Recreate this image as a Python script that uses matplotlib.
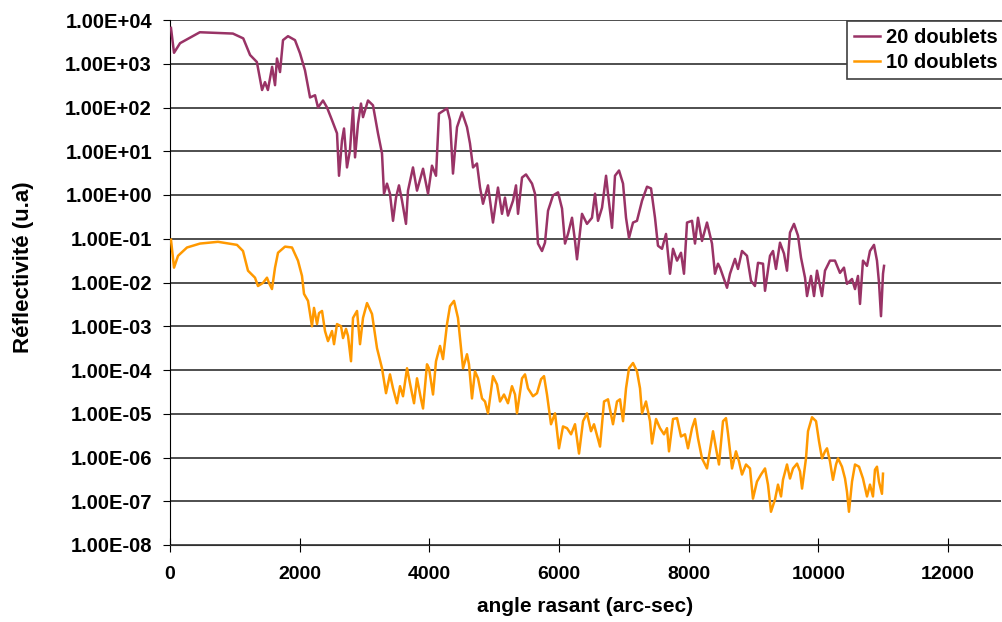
import numpy as np
import matplotlib
matplotlib.use("Agg")
import matplotlib.pyplot as plt

# grazing angle (arc-sec) and log10 of reflectivity
x_20 = [15, 62, 155, 460, 970, 1130, 1235, 1340, 1420, 1465, 1510, 1575, 1620, 1650, 1697,
        1743, 1820, 1928, 2005, 2082, 2160, 2237, 2283, 2360, 2422, 2499, 2576, 2607, 2653,
        2684, 2730, 2776, 2823, 2854, 2900, 2946, 2977, 3054, 3131, 3208, 3270, 3301, 3347,
        3393, 3440, 3486, 3532, 3579, 3640, 3671, 3748, 3810, 3903, 3980, 4041, 4103, 4149,
        4273, 4319, 4365, 4427, 4504, 4581, 4627, 4674, 4735, 4782, 4828, 4905, 4982, 5059,
        5121, 5167, 5213, 5291, 5337, 5368, 5430, 5491, 5584, 5630, 5676, 5738, 5784, 5831,
        5908, 5985, 6047, 6093, 6139, 6201, 6247, 6278, 6355, 6432, 6509, 6556, 6602, 6664,
        6726, 6756, 6818, 6864, 6926, 6988, 7034, 7080, 7142, 7203, 7281, 7358, 7420, 7481,
        7527, 7589, 7651, 7712, 7759, 7821, 7882, 7928, 7975, 8052, 8098, 8144, 8206, 8283,
        8360, 8406, 8453, 8484, 8592, 8638, 8715, 8761, 8823, 8900, 8962, 9023, 9070, 9147,
        9178, 9255, 9301, 9347, 9409, 9471, 9517, 9563, 9625, 9687, 9733, 9795, 9826, 9887,
        9934, 9980, 10057, 10103, 10180, 10257, 10334, 10396, 10442, 10520, 10566, 10612,
        10643, 10689, 10751, 10797, 10859, 10905, 10936, 10967, 10998, 11014]
log_20 = [3.82, 3.25, 3.47, 3.72, 3.69, 3.58, 3.2, 3.04, 2.4, 2.58, 2.4, 2.93, 2.51, 3.12, 2.81,
          3.54, 3.63, 3.54, 3.24, 2.85, 2.23, 2.28, 2.0, 2.16, 2.0, 1.71, 1.41, 0.44, 1.25,
          1.52, 0.63, 1.02, 2.0, 0.86, 1.63, 2.09, 1.78, 2.16, 2.05, 1.41, 0.95, 0.03, 0.26,
          0.03, -0.59, -0.06, 0.22, -0.13, -0.66, 0.1, 0.63, 0.1, 0.6, 0.03, 0.67, 0.44, 1.86,
          1.98, 1.71, 0.49, 1.55, 1.89, 1.55, 1.18, 0.63, 0.72, 0.17, -0.2, 0.22, -0.63, 0.17,
          -0.43, -0.06, -0.47, -0.13, 0.22, -0.43, 0.4, 0.47, 0.26, 0.03, -1.11, -1.28, -1.09, -0.36,
          -0.01, 0.06, -0.31, -1.11, -0.89, -0.52, -1.05, -1.47, -0.43, -0.66, -0.52, 0.03, -0.59, -0.29,
          0.44, 0.03, -0.75, 0.44, 0.56, 0.26, -0.52, -0.98, -0.63, -0.59, -0.13, 0.19, 0.15, -0.52,
          -1.16, -1.23, -0.89, -1.8, -1.23, -1.5, -1.32, -1.8, -0.63, -0.59, -1.11, -0.52, -1.05, -0.63,
          -1.11, -1.8, -1.57, -1.66, -2.12, -1.8, -1.46, -1.69, -1.28, -1.39, -1.96, -2.08, -1.55, -1.57,
          -2.19, -1.39, -1.28, -1.69, -1.09, -1.34, -1.73, -0.86, -0.66, -0.93, -1.43, -1.89, -2.31, -1.85,
          -2.31, -1.73, -2.31, -1.73, -1.5, -1.5, -1.78, -1.66, -2.03, -1.92, -2.15, -1.85,
          -2.49, -1.5, -1.62, -1.28, -1.14, -1.5, -2.0, -2.77, -1.8, -1.62]

x_10 = [15, 62, 124, 262, 463, 740, 1033, 1126, 1203, 1311, 1357, 1434, 1496, 1527, 1573,
        1620, 1666, 1774, 1882, 1974, 2036, 2067, 2129, 2190, 2221, 2268, 2298, 2345, 2391,
        2437, 2499, 2530, 2576, 2638, 2669, 2715, 2746, 2792, 2823, 2885, 2931, 2977, 3039,
        3116, 3193, 3270, 3332, 3393, 3440, 3501, 3548, 3594, 3656, 3717, 3764, 3810, 3872,
        3903, 3964, 3995, 4057, 4103, 4165, 4211, 4273, 4319, 4381, 4442, 4489, 4520, 4581,
        4612, 4658, 4704, 4751, 4813, 4859, 4905, 4982, 5044, 5090, 5152, 5213, 5275, 5322,
        5352, 5430, 5476, 5522, 5599, 5661, 5723, 5769, 5815, 5877, 5939, 6000, 6062, 6124,
        6186, 6247, 6309, 6371, 6432, 6494, 6540, 6633, 6695, 6756, 6833, 6895, 6941, 6988,
        7034, 7080, 7142, 7203, 7250, 7281, 7342, 7404, 7435, 7497, 7558, 7620, 7666, 7697,
        7759, 7821, 7882, 7944, 7990, 8052, 8098, 8144, 8206, 8283, 8376, 8422, 8468, 8530,
        8576, 8607, 8669, 8730, 8777, 8823, 8885, 8946, 8992, 9054, 9116, 9178, 9224, 9270,
        9332, 9378, 9425, 9455, 9517, 9563, 9610, 9672, 9718, 9749, 9810, 9841, 9903, 9965,
        10011, 10057, 10103, 10134, 10180, 10226, 10273, 10304, 10365, 10412, 10442, 10473,
        10520, 10566, 10628, 10689, 10751, 10797, 10843, 10874, 10905, 10936, 10982, 10998]
log_10 = [-1.02, -1.66, -1.39, -1.2, -1.11, -1.07, -1.14, -1.28, -1.73, -1.89, -2.08, -2.01, -1.89, -2.01, -2.15,
          -1.66, -1.32, -1.18, -1.2, -1.5, -1.85, -2.26, -2.42, -3.0, -2.58, -2.95, -2.7, -2.65, -3.11,
          -3.34, -3.11, -3.41, -2.95, -3.0, -3.27, -3.06, -3.22, -3.8, -2.81, -2.65, -3.41, -2.81, -2.47,
          -2.72, -3.5, -3.96, -4.53, -4.1, -4.42, -4.76, -4.37, -4.6, -3.96, -4.42, -4.76, -4.19, -4.67,
          -4.88, -3.87, -3.96, -4.56, -3.8, -3.45, -3.75, -2.95, -2.54, -2.42, -2.81, -3.5, -3.96, -3.64,
          -3.87, -4.65, -4.03, -4.19, -4.65, -4.72, -4.99, -4.14, -4.33, -4.72, -4.56, -4.76, -4.37, -4.56,
          -4.99, -4.19, -4.1, -4.42, -4.6, -4.53, -4.21, -4.14, -4.56, -5.24, -4.99, -5.79, -5.29, -5.33,
          -5.47, -5.24, -5.91, -5.17, -4.99, -5.4, -5.24, -5.75, -4.72, -4.67, -5.24, -4.72, -4.67, -5.17,
          -4.42, -3.96, -3.84, -4.03, -4.42, -4.99, -4.72, -5.17, -5.68, -5.12, -5.33, -5.47, -5.33, -5.86,
          -5.12, -5.1, -5.52, -5.47, -5.79, -5.33, -5.12, -5.56, -6.02, -6.25, -5.4, -5.79, -6.16, -5.17,
          -5.1, -5.45, -6.25, -5.86, -6.09, -6.39, -6.16, -6.25, -6.94, -6.55, -6.39, -6.25, -6.62, -7.24,
          -6.96, -6.62, -6.89, -6.51, -6.16, -6.48, -6.25, -6.14, -6.32, -6.71, -6.02, -5.4, -5.08, -5.17,
          -5.63, -6.02, -5.86, -5.79, -6.09, -6.51, -6.16, -6.02, -6.21, -6.48, -6.78, -7.24,
          -6.55, -6.16, -6.21, -6.48, -6.89, -6.62, -6.89, -6.28, -6.21, -6.55, -6.83, -6.37]

y_ticks = [10.0 ** k for k in range(-8, 5)]
y_ticklabels = ["1.00E%s%02d" % ('+' if k >= 0 else '-', abs(k)) for k in range(-8, 5)]
x_ticks = [0, 2000, 4000, 6000, 8000, 10000, 12000]

plt.rcParams['font.family'] = ['Liberation Sans', 'DejaVu Sans']
plt.rcParams['font.weight'] = 'bold'

fig = plt.figure(figsize=(10.02, 6.22), dpi=100)
ax = fig.add_axes([170 / 1002, 77 / 622, 831 / 1002, 525 / 622])

for k in y_ticks:
    ax.axhline(k, color='#303030', linewidth=1.2, zorder=1)

ax.plot(x_20, 10.0 ** np.array(log_20), color='#993366', linewidth=1.8, label='20 doublets', zorder=3)
ax.plot(x_10, 10.0 ** np.array(log_10), color='#FF9900', linewidth=1.8, label='10 doublets', zorder=3)

ax.set_yscale('log')
ax.set_ylim(1e-8, 1e4)
ax.set_xlim(0, 12818)
ax.set_yticks(y_ticks)
ax.set_yticklabels(y_ticklabels)
ax.minorticks_off()
ax.set_xticks(x_ticks)
ax.set_xticklabels([str(v) for v in x_ticks])
ax.tick_params(axis='y', direction='out', length=5, pad=8, labelsize=14.5)
ax.tick_params(axis='x', direction='inout', length=10, pad=10, labelsize=14)

for side in ['top', 'right']:
    ax.spines[side].set_visible(False)
ax.spines['left'].set_color('black')
ax.spines['bottom'].set_color('#303030')

ax.set_xlabel("angle rasant (arc-sec)", fontsize=15, fontweight='bold', labelpad=10)
ax.set_ylabel("Réflectivité (u.a)", fontsize=16, fontweight='bold')
ax.yaxis.set_label_coords((34 - 170) / 831, 0.53)

leg = ax.legend(loc='upper left', bbox_to_anchor=(847 / 1002, 1 - 21 / 622),
                bbox_transform=fig.transFigure, borderaxespad=0, borderpad=0.35,
                fancybox=False, edgecolor='#404040', framealpha=1, fontsize=14.5,
                handlelength=1.3, handletextpad=0.3, labelspacing=0.3)
leg.get_frame().set_linewidth(1.2)

fig.savefig("out.png", dpi=100)
